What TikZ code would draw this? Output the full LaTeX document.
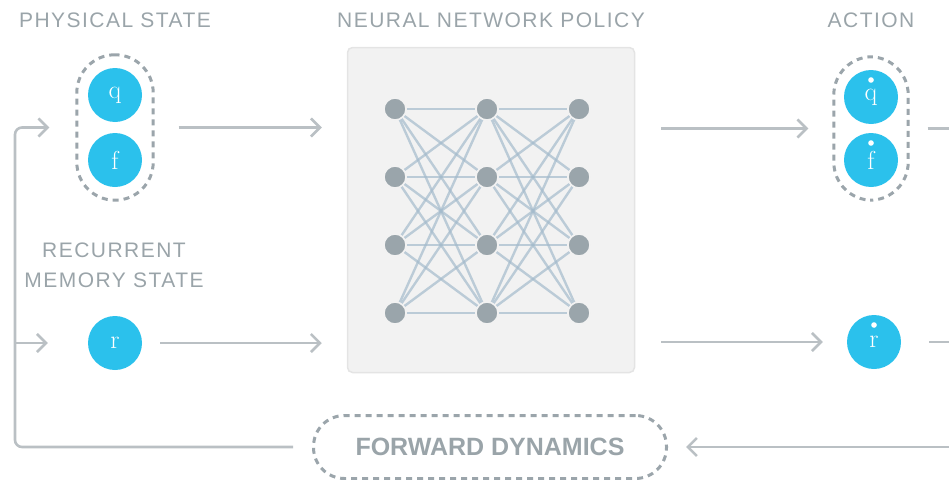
\documentclass[tikz,border=0pt]{standalone}
\usepackage{fontspec}
\usepackage{tikz}
\usetikzlibrary{arrows.meta,fit,backgrounds}
\newfontfamily\capsfont{Liberation Sans}[LetterSpace=7]
\newfontfamily\boldfont{Liberation Sans Bold}
\definecolor{cyanball}{HTML}{2BC1EC}
\definecolor{wire}{HTML}{BAC0C4}
\definecolor{dashgray}{HTML}{9BA5AB}
\definecolor{labgray}{HTML}{9AA4A9}
\definecolor{panel}{HTML}{F2F2F2}
\definecolor{panelrim}{HTML}{E4E4E4}
\definecolor{unitgray}{HTML}{9AA5AB}
\definecolor{linkblue}{HTML}{A4BBCC}
\tikzset{
  heading/.style={text=labgray, font=\capsfont\fontsize{21}{30}\selectfont, inner sep=0pt},
  ball/.style={circle, fill=cyanball, minimum size=54pt, inner sep=0pt, text=white, font=\fontsize{26}{26}\selectfont},
  ddot/.style={fill=white},
  capsule/.style={draw=dashgray, line width=3pt, dash pattern=on 6pt off 5pt, rounded corners=38pt},
  flow/.style={draw=wire, line width=2.6pt, -{Straight Barb[length=9pt,width=18pt]}},
  plain/.style={draw=wire, line width=2.6pt},
  unit/.style={circle, fill=unitgray, draw=panel, line width=1.5pt, minimum size=22pt, inner sep=0pt},
  link/.style={draw=linkblue, line width=2.4pt, opacity=0.7},
  netbox/.style={fill=panel, draw=panelrim, line width=1.5pt, rounded corners=5pt, minimum width=287pt, minimum height=325pt},
}

\begin{document}
\begin{tikzpicture}[x=1pt, y=-1pt]
  \useasboundingbox (0,0) rectangle (949,479);
  \coordinate (west) at (15,0);
  \coordinate (east) at (949,0);

  % headings
  \node[heading, anchor=base] (physlab) at (115,27) {PHYSICAL STATE};
  \node[heading, anchor=base] (netlab) at (491,27) {NEURAL NETWORK POLICY};
  \node[heading, anchor=base] (actlab) at (871,27) {ACTION};
  \node[heading, anchor=north, align=center] (memlab) at (114,243) {RECURRENT\\MEMORY STATE};

  % state and action balls
  \node[ball] (q) at (115,95) {q};
  \node[ball] (f) at (115,160) {f};
  \node[ball] (r) at (115,343) {r};
  \node[ball] (qd) at (871,97) {q};
  \node[ball] (fd) at (871,160) {f};
  \node[ball] (rd) at (874,342) {r};
  \foreach \b in {qd,fd,rd}
    \fill[ddot] ([yshift=17pt]\b.center) circle (2.8pt);

  \node[capsule, fit=(q)(f), inner xsep=11pt, inner ysep=13pt] (physical) {};
  \node[capsule, fit=(qd)(fd), inner xsep=10pt, inner ysep=13pt] (action) {};

  % network units
  \foreach \c/\x in {1/395,2/487,3/579}
    \foreach \r/\y in {1/109,2/177,3/245,4/313}
      \node[unit] (n\c\r) at (\x,\y) {};

  \begin{scope}[on background layer]
    \node[netbox] (policy) at (491,210) {};
    \foreach \a in {1,...,4}
      \foreach \b in {1,...,4} {
        \draw[link] (n1\a) -- (n2\b);
        \draw[link] (n2\a) -- (n3\b);
      }
  \end{scope}

  \node[capsule, minimum width=353pt, minimum height=63pt, rounded corners=31pt,
        text=labgray, font=\boldfont\fontsize{25}{25}\selectfont] (fwd) at (490,447)
        {FORWARD DYNAMICS};

  % into and out of the policy
  \draw[flow, shorten <=24pt, shorten >=25pt] (physical.east) -- (policy.west |- physical);
  \draw[flow, shorten <=18pt, shorten >=25pt] (r.east) -- (policy.west |- r);
  \draw[flow, shorten <=26pt, shorten >=24pt] (policy.east |- action) -- (action.west);
  \draw[flow, shorten <=26pt, shorten >=24pt] (policy.east |- rd) -- (rd.west);

  % feedback loop
  \draw[plain] (action.east) ++(18,0) -- (east |- action);
  \draw[plain] (rd.east) ++(28,0) -- (east |- rd);
  \draw[flow, shorten >=18pt] (east |- fwd) -- (fwd.east);
  \draw[flow, rounded corners=7pt, shorten <=19pt, shorten >=26pt]
    (fwd.west) -| (west |- physical) -- (physical.west);
  \draw[flow, shorten >=40pt] (west |- r) -- (r.west);
\end{tikzpicture}
\end{document}
